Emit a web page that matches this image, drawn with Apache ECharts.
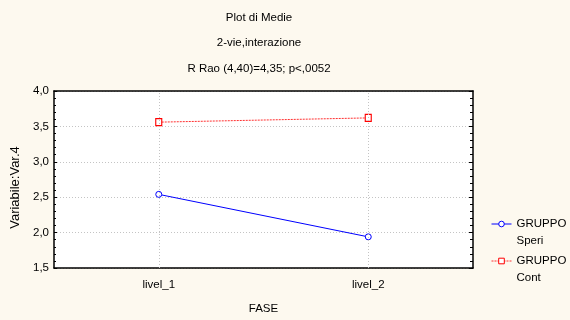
<!DOCTYPE html>
<html><head><meta charset="utf-8">
<script src="https://cdn.jsdelivr.net/npm/echarts@6/dist/echarts.min.js"></script>
<style>html,body{margin:0;padding:0;background:#FDF9EF}#c{width:570px;height:320px}</style>
</head><body><div id="c"></div>
<script>
const categories = ['livel_1', 'livel_2'];
const speriValues = [2.54, 1.94];
const contValues = [3.56, 3.62];
const seriesNames = ['GRUPPO\nSperi', 'GRUPPO\nCont'];
const yMin = 1.5, yMax = 4.0, yInterval = 0.5;
const titleLines = ['Plot di Medie', '2-vie,interazione', 'R Rao (4,40)=4,35; p<,0052'];
const xName = 'FASE';
const yName = 'Variabile:Var.4';

const FONT = '"Liberation Sans Narrow", "Liberation Sans", Arial, sans-serif';
const fmt = v => v.toFixed(1).replace('.', ',');
const chart = echarts.init(document.getElementById('c'));
const gridLine = { show: true, lineStyle: { color: '#c4c4c4', type: [1, 2], width: 1 } };
chart.setOption({
  backgroundColor: '#FDF9EF',
  animation: false,
  title: {
    text: titleLines.join('\n'), left: 259, top: 5, padding: 0, textAlign: 'center',
    textStyle: { fontFamily: FONT, fontSize: 11.5, fontWeight: 'normal', color: '#000', lineHeight: 25.5 }
  },
  grid: { left: 54, right: 97, top: 91, bottom: 52, show: true, backgroundColor: '#fff', borderWidth: 0 },
  legend: {
    orient: 'vertical', left: 491, top: 198.5, padding: 0, itemWidth: 20, itemHeight: 7, itemGap: -14,
    itemStyle: { borderWidth: 1 }, lineStyle: { width: 1 },
    formatter: name => ' \n' + name,
    textStyle: { fontFamily: FONT, fontSize: 11.5, color: '#000', lineHeight: 17 },
    data: seriesNames
  },
  xAxis: [{
    type: 'category', data: categories, boundaryGap: true,
    name: xName, nameLocation: 'middle', nameGap: 35,
    nameTextStyle: { fontFamily: FONT, fontSize: 11.5, color: '#000' },
    axisLine: { lineStyle: { color: '#000', width: 1.5 } },
    axisTick: { show: false },
    axisLabel: { fontFamily: FONT, fontSize: 11.5, color: '#000', margin: 11 },
    splitLine: { show: false }
  }, {
    type: 'category', data: categories, position: 'top', boundaryGap: true,
    axisLine: { lineStyle: { color: '#000', width: 1.5 } },
    axisTick: { show: false }, axisLabel: { show: false }, splitLine: { show: false }
  }],
  yAxis: [{
    type: 'value', min: yMin, max: yMax, interval: yInterval,
    name: yName, nameLocation: 'middle', nameGap: 28,
    nameTextStyle: { fontFamily: FONT, fontSize: 13, color: '#000', padding: [0, 16, 0, 0] },
    axisLine: { show: true, lineStyle: { color: '#000', width: 1.5 } },
    axisTick: { show: true, inside: true, length: 3, lineStyle: { color: '#000' } },
    minorTick: { show: true, splitNumber: 5, length: 2, lineStyle: { color: '#000' } },
    axisLabel: { fontFamily: FONT, fontSize: 11.5, color: '#000', margin: 5, formatter: fmt },
    splitLine: gridLine
  }, {
    type: 'value', min: yMin, max: yMax, interval: yInterval, position: 'right',
    axisLine: { show: true, lineStyle: { color: '#000', width: 1.5 } },
    axisTick: { show: true, inside: true, length: 4, lineStyle: { color: '#000' } },
    minorTick: { show: true, splitNumber: 5, length: 3, lineStyle: { color: '#000' } },
    axisLabel: { show: false }, splitLine: { show: false }
  }],
  series: [{
    name: seriesNames[0], type: 'line', data: speriValues,
    symbol: 'circle', symbolSize: 6, showSymbol: true,
    lineStyle: { color: '#0000FF', width: 1 },
    itemStyle: { color: '#fff', borderColor: '#0000FF', borderWidth: 1 },
    markLine: {
      silent: true, symbol: 'none', label: { show: false }, animation: false,
      lineStyle: { color: '#c4c4c4', type: [1, 2], width: 1 },
      data: categories.map(c => ({ xAxis: c }))
    },
    z: 3
  }, {
    name: seriesNames[1], type: 'line', data: contValues,
    symbol: 'rect', symbolSize: [6, 7], showSymbol: true,
    lineStyle: { color: '#FF3030', width: 1, type: [2, 1] },
    itemStyle: { color: '#fff', borderColor: '#FF0000', borderWidth: 1.2 },
    z: 3
  }]
});
</script></body></html>
